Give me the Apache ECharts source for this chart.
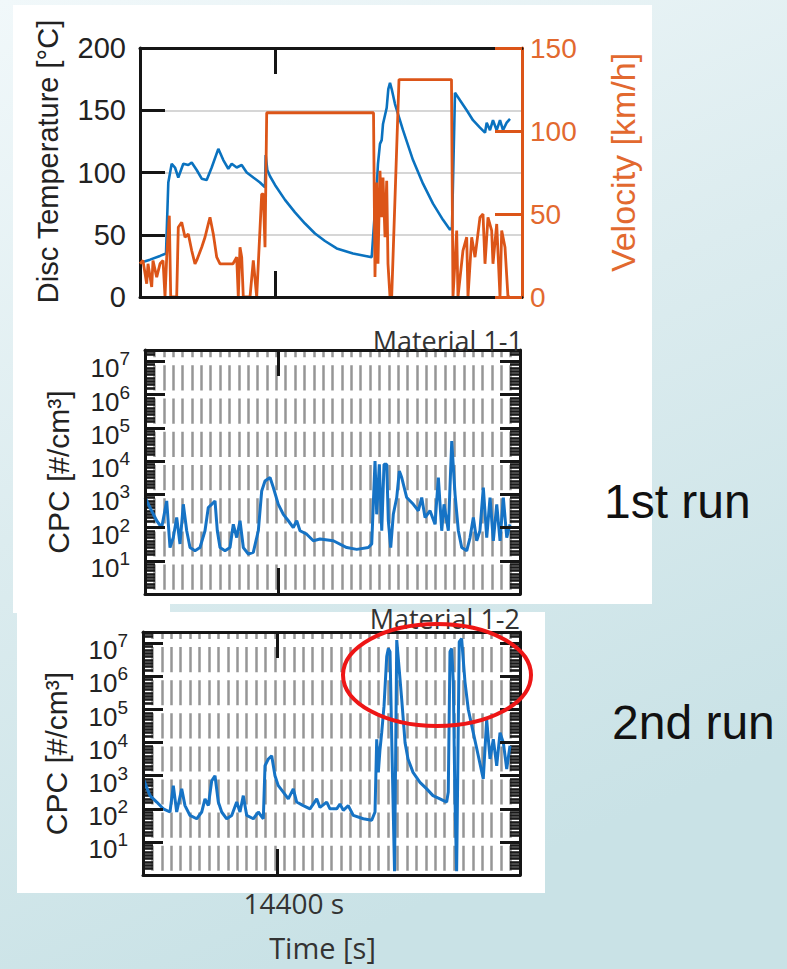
<!DOCTYPE html>
<html>
<head>
<meta charset="utf-8">
<script src="https://cdn.jsdelivr.net/npm/echarts@6/dist/echarts.min.js"></script>
<style>
html,body{margin:0;padding:0;width:787px;height:969px;overflow:hidden;background:#e4f0f3;}
#c{width:787px;height:969px;}
</style>
</head>
<body>
<div id="c"></div>
<script>
// ---------- DATA ----------
// time axis [s]
const timeMin = 10000, timeMax = 22400;
const timeTicks = [14400];

// Top panel: disc temperature [°C] (left axis) and velocity [km/h] (right axis)
const tempT = [10065,10325,10649,10844,10919,11029,11136,11243,11406,11568,11678,11840,12003,12165,12327,12542,12704,12866,12977,13139,13301,13464,13678,13895,14058,14080,14132,14220,14382,14707,15031,15356,15680,16005,16385,16914,17521,17628,17683,17725,17790,17845,17888,18008,18060,18115,18170,18277,18537,18862,19186,19511,19835,20063,20128,20225,20387,20605,20809,21036,21199,21254,21361,21458,21579,21686,21783,21903,22010];
const tempV = [28,30,33,35,92,107,104,96,107,106,108,102,95,94,104,119,110,103,107,104,106,100,96,92,88,114,102,97,90,78,68,59,51,45,39,35,32,70,88,107,123,126,139,152,167,172,167,155,134,110,91,75,62,54,56,164,158,150,142,136,132,140,134,142,134,142,134,140,143];

const velT = [10000,10097,10217,10260,10380,10422,10542,10649,10747,10812,10867,10951,10997,11191,11243,11354,11461,11568,11678,11785,11840,12003,12110,12217,12272,12379,12490,12597,13019,13139,13191,13246,13301,13353,13571,13678,13788,13950,14002,14058,14113,17580,17628,17683,17725,17790,17845,17888,17953,18008,18050,18115,18170,18407,20111,20144,20160,20280,20322,20484,20605,20647,20767,20874,20929,21036,21134,21199,21296,21416,21458,21579,21686,21741,21848,21945,22010];
const velV = [20,22,8,20,6,22,12,20,22,0,24,49,0,0,42,45,36,38,28,20,22,30,36,44,48,38,24,20,20,24,0,30,24,0,0,22,0,62,62,30,111,111,12,69,20,76,48,72,36,70,20,0,0,131,131,40,0,40,0,28,36,0,36,24,32,48,50,20,48,40,20,44,0,40,30,0,0];

// Tick values of the top panel axes
const tempTicks = {min: 0, max: 200, step: 50};
const velTicks = {min: 0, max: 150, step: 50};

// CPC [#/cm³], Material 1-1 (1st run)
const cpc1T = [10000,10165,10387,10552,10718,10827,10936,11048,11157,11267,11379,11488,11654,11819,11984,12093,12206,12315,12391,12480,12646,12811,12920,13033,13142,13251,13416,13581,13747,13859,13968,14134,14243,14408,14574,14739,14904,15017,15126,15347,15566,15787,16227,16670,17001,17385,17497,17606,17662,17748,17828,17904,17993,18046,18125,18211,18324,18410,18489,18654,18873,19038,19150,19260,19425,19590,19700,19812,19888,20030,20143,20252,20361,20473,20638,20748,20857,20969,21075,21187,21300,21409,21518,21631,21740,21849,21962,22071];
const cpc1V = [800,400,160,100,630,25,50,200,32,500,80,25,20,25,80,400,500,630,80,25,20,25,125,50,160,25,16,18,80,1260,2500,3200,1600,500,250,160,100,160,80,63,40,45,40,25,22,25,32,10000,250,8000,80,8000,8000,160,25,250,800,5000,3200,800,500,320,800,200,320,125,3200,80,500,80,40000,1000,80,25,20,50,200,40,80,1600,50,800,40,500,40,800,50,125];

// CPC [#/cm³], Material 1-2 (2nd run)
const cpc2T = [10010,10230,10451,10668,10888,10997,11108,11273,11381,11546,11766,11931,12039,12148,12260,12368,12477,12588,12753,12917,13082,13190,13299,13411,13628,13792,13957,14013,14121,14233,14341,14450,14614,14779,14943,15055,15272,15493,15713,15822,16042,16150,16371,16479,16588,16752,16917,17246,17522,17631,17687,17740,17796,17851,17927,18016,18069,18125,18181,18273,18346,18510,18619,18717,18882,19110,19331,19538,19768,19988,20041,20097,20153,20206,20260,20316,20401,20480,20589,20699,20863,21028,21192,21304,21414,21522,21634,21743,21852,21963,22071];
const cpc2V = [800,250,160,100,80,500,80,400,125,63,50,80,200,125,700,1000,160,80,50,63,160,80,250,63,50,80,50,2000,3200,4000,1000,500,320,200,400,160,125,100,200,110,160,100,100,140,90,125,63,50,45,80,12600,1260,6300,20000,126000,4000000,7000000,5600000,12600,1.3,12600000,200000,10000,3200,1260,630,400,250,200,160,320,5600000,7000000,700000,200,1.3,11000000,14000000,700000,100000,20000,4000,800,50000,3200,12600,2000,20000,10000,1600,8000];

// CPC axis range (decades 10^0 .. 10^7, labelled 10^1 .. 10^7)
const cpcMin = 1, cpcMax = 2.2e7;

// ---------- CHART ----------
const FONT = '"Liberation Sans", Arial, sans-serif';
const FONT2 = '"Open Sans", "Noto Sans", sans-serif';
const BLACK = '#151515';
const ORANGE = '#dc5518';
const ORANGE_T = '#e2692f';
const BLUE = '#0a72bf';
const CPCBLUE = '#1673c5';

const GRIDS = [
  {left: 140, top: 48, width: 382, height: 249},
  {left: 145, top: 350, width: 375, height: 244},
  {left: 143, top: 632, width: 377, height: 243}
];

const pairs = (t, v) => t.slice(0, Math.min(t.length, v.length)).map((x, i) => [x, v[i]]);
const logSpan = Math.log10(cpcMax) - Math.log10(cpcMin);

function timeAxis(g, pos, extra) {
  return Object.assign({
    type: 'value', gridIndex: g, position: pos, min: timeMin, max: timeMax, z: 3,
    axisLine: {show: true, onZero: false, lineStyle: {color: BLACK, width: 3}},
    axisTick: {show: true, inside: true, length: 26, customValues: timeTicks, lineStyle: {color: BLACK, width: 3}},
    axisLabel: {show: false},
    splitLine: {show: false}
  }, extra || {});
}
// dense vertical minor grid, interrupted by a white gap at every decade of the log axis
function patternX(g) {
  const h = GRIDS[g].height;
  const period = h / logSpan;                      // pixels per decade
  const gap = 8;
  const first = h - Math.floor(logSpan) * period;  // distance of the highest decade from the top
  const offset = (period - gap) - first + gap / 2;
  return {
    type: 'value', gridIndex: g, position: 'bottom', min: 0, max: 40, interval: 1, z: 0,
    axisLine: {show: false}, axisTick: {show: false}, axisLabel: {show: false},
    splitLine: {show: true, lineStyle: {color: '#969696', width: 2.5, type: [period - gap, gap], dashOffset: offset}}
  };
}
function cpcLabelAxis(g) {
  return {
    type: 'log', logBase: 10, gridIndex: g, position: 'left', min: cpcMin, max: cpcMax, z: 1,
    axisLine: {show: false}, axisTick: {show: false},
    splitLine: {show: false},
    axisLabel: {
      margin: 15,
      padding: [8, 0, 0, 0],
      formatter: function (v) {
        const e = Math.log10(v), r = Math.round(e);
        if (Math.abs(e - r) > 0.01 || r < 1 || r > 7) return '';
        return '{b|10}{s|' + r + '}';
      },
      rich: {
        b: {fontFamily: FONT, fontSize: 26, color: '#222', lineHeight: 32, verticalAlign: 'bottom'},
        s: {fontFamily: FONT, fontSize: 19, color: '#222', lineHeight: 14, verticalAlign: 'top'}
      }
    },
    name: 'CPC [#/cm³]', nameLocation: 'middle', nameGap: 72,
    nameTextStyle: {fontFamily: FONT, fontSize: 30, color: '#222'}
  };
}
function cpcTickAxis(g, pos) {
  return {
    type: 'log', logBase: 10, gridIndex: g, position: pos, min: cpcMin, max: cpcMax, z: 3,
    axisLine: {show: true, lineStyle: {color: BLACK, width: 3}},
    axisTick: {show: true, inside: true, length: 20, lineStyle: {color: BLACK, width: 3}},
    axisLabel: {show: false}, splitLine: {show: false}
  };
}
// dense minor ticks along the log axes (tenths of a decade), with a white notch just above each decade
function patternY(g, pos) {
  const n = Math.floor(logSpan * 10);
  const vals = [];
  for (let k = 0; k <= n; k++) { if (k % 10 !== 0 && k % 10 !== 1) vals.push(k); }
  return {
    type: 'value', gridIndex: g, position: pos, min: 0, max: logSpan * 10, z: 0,
    axisLine: {show: false},
    axisTick: {show: true, inside: true, length: 10, customValues: vals, lineStyle: {color: '#1a1a1a', width: 2.6}},
    axisLabel: {show: false}, splitLine: {show: false}
  };
}

const option = {
  animation: false,
  textStyle: {fontFamily: FONT},
  grid: GRIDS.map(function (g) { return Object.assign({outerBoundsMode: 'none', containLabel: false}, g); }),
  title: [
    {text: 'Material 1-1', right: 264, top: 326, padding: 0,
     textStyle: {fontFamily: FONT2, fontSize: 27, fontWeight: 'normal', color: '#333', lineHeight: 28}},
    {text: 'Material 1-2', right: 267, top: 604, padding: 0,
     textStyle: {fontFamily: FONT2, fontSize: 27, fontWeight: 'normal', color: '#333', lineHeight: 28}}
  ],
  xAxis: [
    timeAxis(0, 'bottom'),
    timeAxis(0, 'top'),
    timeAxis(1, 'bottom'),
    timeAxis(1, 'top'),
    patternX(1),
    timeAxis(2, 'bottom', {
      axisLabel: {show: true, customValues: timeTicks, formatter: function (v) { return v + ' s'; },
        fontFamily: FONT2, fontSize: 28, color: '#333', margin: 14, padding: [0, 0, 0, 34]},
      name: 'Time [s]', nameLocation: 'middle', nameGap: 58,
      nameTextStyle: {fontFamily: FONT2, fontSize: 29, color: '#333', padding: [0, 18, 0, 0]}
    }),
    timeAxis(2, 'top'),
    patternX(2)
  ],
  yAxis: [
    {type: 'value', gridIndex: 0, position: 'left', min: tempTicks.min, max: tempTicks.max, interval: tempTicks.step, z: 0,
     axisLine: {show: true, lineStyle: {color: BLACK, width: 3}},
     axisTick: {show: true, inside: true, length: 25, lineStyle: {color: BLACK, width: 3}},
     axisLabel: {fontFamily: FONT, fontSize: 29, color: '#222', margin: 14},
     splitLine: {show: true, lineStyle: {color: '#d6d6d6', width: 2}},
     name: 'Disc Temperature [°C]', nameLocation: 'middle', nameGap: 78,
     nameTextStyle: {fontFamily: FONT, fontSize: 29, color: '#222', padding: [0, 0, 0, 22]}},
    {type: 'value', gridIndex: 0, position: 'right', min: velTicks.min, max: velTicks.max, interval: velTicks.step, z: 3,
     axisLine: {show: true, lineStyle: {color: ORANGE, width: 3}},
     axisTick: {show: true, inside: true, length: 27, lineStyle: {color: ORANGE, width: 3}},
     axisLabel: {fontFamily: FONT, fontSize: 28, color: ORANGE_T, margin: 8},
     splitLine: {show: false},
     name: 'Velocity [km/h]', nameLocation: 'middle', nameGap: 84,
     nameTextStyle: {fontFamily: FONT, fontSize: 34, color: ORANGE_T, padding: [0, 0, 0, 20]}},
    cpcLabelAxis(1), cpcTickAxis(1, 'left'), cpcTickAxis(1, 'right'), patternY(1, 'left'), patternY(1, 'right'),
    cpcLabelAxis(2), cpcTickAxis(2, 'left'), cpcTickAxis(2, 'right'), patternY(2, 'left'), patternY(2, 'right')
  ],
  series: [
    {type: 'line', name: 'Disc Temperature', xAxisIndex: 0, yAxisIndex: 0, data: pairs(tempT, tempV),
     showSymbol: false, symbol: 'none', z: 2, lineStyle: {color: BLUE, width: 2.6}, itemStyle: {color: BLUE}},
    {type: 'line', name: 'Velocity', xAxisIndex: 0, yAxisIndex: 1, data: pairs(velT, velV),
     showSymbol: false, symbol: 'none', z: 2, lineStyle: {color: ORANGE, width: 2.8}, itemStyle: {color: ORANGE}},
    {type: 'line', name: 'Material 1-1', xAxisIndex: 2, yAxisIndex: 2, data: pairs(cpc1T, cpc1V),
     showSymbol: false, symbol: 'none', z: 2, lineStyle: {color: CPCBLUE, width: 3}, itemStyle: {color: CPCBLUE}},
    {type: 'line', name: 'Material 1-2', xAxisIndex: 5, yAxisIndex: 7, data: pairs(cpc2T, cpc2V),
     showSymbol: false, symbol: 'none', z: 2, lineStyle: {color: CPCBLUE, width: 3}, itemStyle: {color: CPCBLUE}}
  ],
  graphic: {elements: [
    {type: 'rect', z: -10, silent: true, shape: {x: 0, y: 0, width: 787, height: 969},
     style: {fill: {type: 'linear', x: 0, y: 0, x2: 0.35, y2: 1,
       colorStops: [{offset: 0, color: '#f1f8fa'}, {offset: 0.5, color: '#dcecef'}, {offset: 1, color: '#c9e2e6'}]}}},
    {type: 'rect', z: -9, silent: true, shape: {x: 13, y: 5, width: 639, height: 599}, style: {fill: '#ffffff'}},
    {type: 'rect', z: -9, silent: true, shape: {x: 13, y: 603, width: 157, height: 10}, style: {fill: '#ffffff'}},
    {type: 'rect', z: -9, silent: true, shape: {x: 17, y: 612, width: 528, height: 281}, style: {fill: '#ffffff'}},
    {type: 'ellipse', z: 100, silent: true, shape: {cx: 437, cy: 675, rx: 94, ry: 51},
     style: {fill: 'none', stroke: '#ee1616', lineWidth: 4}},
    {type: 'text', z: 100, silent: true, x: 604, y: 501,
     style: {text: '1st run', fontFamily: FONT, fontSize: 48, fill: '#111', verticalAlign: 'middle'}},
    {type: 'text', z: 100, silent: true, x: 612, y: 722,
     style: {text: '2nd run', fontFamily: FONT, fontSize: 48, fill: '#111', verticalAlign: 'middle'}}
  ]}
};

const chart = echarts.init(document.getElementById('c'), null, {renderer: 'svg', width: 787, height: 969});
chart.setOption(option);
</script>
</body>
</html>
